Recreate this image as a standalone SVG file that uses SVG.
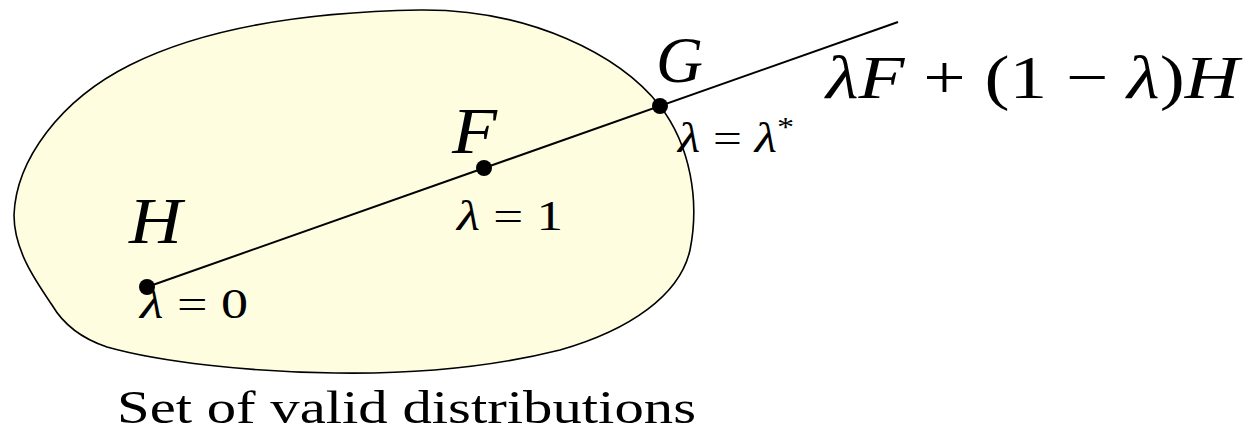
<svg xmlns="http://www.w3.org/2000/svg" width="1255" height="432" viewBox="0 0 1255 432">
<style>
.m{font-family:"Liberation Serif","Times New Roman",serif;fill:#000}
.i{font-style:italic}
.dot{fill:#000}
</style>
<rect width="1255" height="432" fill="#fff"/>
<g id="set">
<path d="M 14 215 C 16 160, 60 100, 130 65 C 200 30, 300 12, 420 10 C 530 9, 620 55, 660 106 C 690 145, 700 200, 690 250 C 680 295, 630 330, 560 350 C 480 370, 400 374, 335 373 C 250 372, 160 362, 107 347 C 80 338, 62 322, 52 305 C 35 280, 14 250, 14 215 Z" fill="#fefde0" stroke="#000" stroke-width="1.6"/>
</g>
<g id="connectors">
<line x1="147" y1="287" x2="898" y2="22" stroke="#000" stroke-width="2"/>
</g>
<g id="H">
<circle class="dot" cx="147" cy="287" r="8"/>
<text class="m i" x="129" y="243" font-size="66" textLength="53" lengthAdjust="spacingAndGlyphs">H</text>
<text class="m" x="140" y="318" font-size="42" textLength="108" lengthAdjust="spacingAndGlyphs"><tspan class="i">λ</tspan> = 0</text>
</g>
<g id="F">
<circle class="dot" cx="484" cy="168" r="8"/>
<text class="m i" x="452" y="153" font-size="66" textLength="45" lengthAdjust="spacingAndGlyphs">F</text>
<text class="m" x="457" y="230" font-size="42" textLength="106" lengthAdjust="spacingAndGlyphs"><tspan class="i">λ</tspan> = 1</text>
</g>
<g id="G">
<circle class="dot" cx="660" cy="106" r="8"/>
<text class="m i" x="656" y="82" font-size="66" textLength="47" lengthAdjust="spacingAndGlyphs">G</text>
<text class="m" x="678" y="152" font-size="42" textLength="116" lengthAdjust="spacingAndGlyphs"><tspan class="i">λ</tspan> = <tspan class="i">λ</tspan><tspan font-size="28" dy="-16">*</tspan></text>
</g>
<g id="formula">
<text class="m" x="826" y="98" font-size="62" textLength="413" lengthAdjust="spacingAndGlyphs"><tspan class="i">λF</tspan> + (1 − <tspan class="i">λ</tspan>)<tspan class="i">H</tspan></text>
</g>
<g id="caption">
<text class="m" x="117" y="423" font-size="46" textLength="579" lengthAdjust="spacingAndGlyphs">Set of valid distributions</text>
</g>
</svg>
